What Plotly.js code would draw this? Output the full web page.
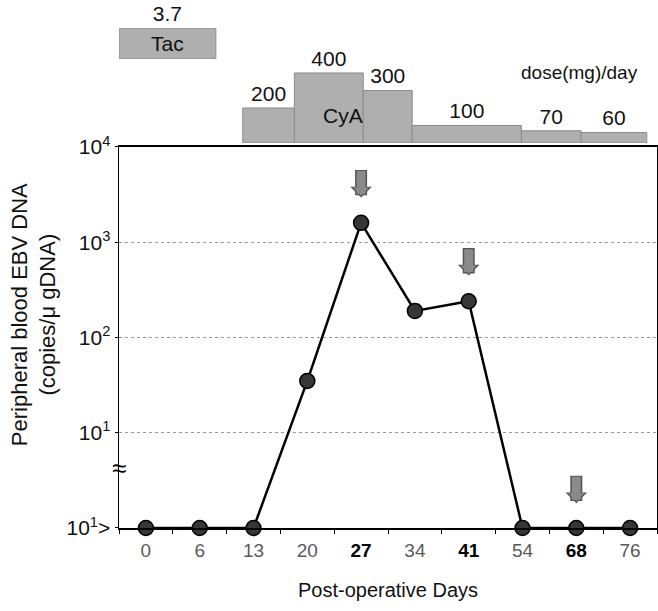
<!DOCTYPE html>
<html><head><meta charset="utf-8">
<script src="https://cdn.plot.ly/plotly-3.0.1.min.js"></script>
<style>html,body{margin:0;padding:0;background:#fff}</style>
</head><body><div id="chart" style="width:658px;height:611px"></div>
<script>
// Post-operative days (categories) and EBV DNA load (copies/ug gDNA); 1 = below detection (10^1>)
const days = ['0','6','13','20','27','34','41','54','68','76'];
const ebvCopies = [1, 1, 1, 35, 1600, 190, 240, 1, 1, 1];
const boldDays = ['27','41','68'];
// event arrows: day and log10 level of arrow tip
const arrowDays = ['27','41','68'];
const arrowTipLog = [3.47, 2.65, 0.26];
// y ticks
const yTickVals = [1, 10, 100, 1000, 10000];
const yTickText = ['10<sup>1</sup>>','10<sup>1</sup>','10<sup>2</sup>','10<sup>3</sup>','10<sup>4</sup>'];
// immunosuppressant dosing (mg/day); spans in category-position units
const cyaDose = [200, 400, 300, 100, 70, 60];
const cyaFrom = [1.80, 2.76, 4.04, 4.95, 6.98, 8.09];
const cyaTo   = [2.76, 4.04, 4.95, 6.98, 8.09, 9.31];
const tacDose = [3.7];
const tacFrom = [-0.5];
const tacTo   = [1.30];

const FONT = 'Arial, "Liberation Sans", sans-serif';
const mid = (a, b) => a.map((v, i) => (v + b[i]) / 2);
const wid = (a, b) => a.map((v, i) => b[i] - v);

const traces = [
  {
    type: 'bar', x: mid(cyaFrom, cyaTo), width: wid(cyaFrom, cyaTo), y: cyaDose,
    xaxis: 'x2', yaxis: 'y2',
    marker: {color: '#afafaf', line: {color: '#8c8c8c', width: 1}},
    text: cyaDose.map(String), textposition: 'outside', constraintext: 'none',
    textfont: {family: FONT, size: 21, color: '#111'}, cliponaxis: false,
    hoverinfo: 'skip', showlegend: false
  },
  {
    type: 'bar', x: mid(tacFrom, tacTo), width: wid(tacFrom, tacTo), y: tacDose,
    xaxis: 'x2', yaxis: 'y3',
    marker: {color: '#afafaf', line: {color: '#8c8c8c', width: 1}},
    text: tacDose.map(String), textposition: 'outside', constraintext: 'none',
    textfont: {family: FONT, size: 21, color: '#111'}, cliponaxis: false,
    hoverinfo: 'skip', showlegend: false
  },
  {
    type: 'scatter', mode: 'lines+markers', x: days, y: ebvCopies,
    xaxis: 'x', yaxis: 'y',
    line: {color: '#000', width: 2.5},
    marker: {size: 15, color: '#363636', line: {color: '#000', width: 1.5}},
    cliponaxis: false, showlegend: false
  }
];

const annotations = [
  {xref: 'x2', yref: 'y3', x: (tacFrom[0] + tacTo[0]) / 2, y: tacDose[0] / 2, text: 'Tac', showarrow: false,
   font: {family: FONT, size: 21, color: '#111'}},
  {xref: 'x2', yref: 'y2', x: 3.66, y: 155, text: 'CyA', showarrow: false,
   font: {family: FONT, size: 21, color: '#111'}},
  {xref: 'x2', yref: 'y2', x: 8.06, y: 400, text: 'dose(mg)/day', showarrow: false,
   font: {family: FONT, size: 19, color: '#111'}},
  {xref: 'paper', yref: 'y', x: 0, xanchor: 'center', y: 0.63, text: '≈', showarrow: false,
   font: {family: FONT, size: 26, color: '#000'}},
  {xref: 'paper', yref: 'paper', x: -0.158, y: 0.405, xanchor: 'center', yanchor: 'middle', textangle: -90,
   text: 'Peripheral blood EBV DNA<br>(copies/μ gDNA)', showarrow: false,
   font: {family: FONT, size: 22, color: '#111'}}
];
arrowDays.forEach((d, i) => {
  const xi = days.indexOf(d);
  annotations.push({xref: 'x', yref: 'y', x: xi, y: arrowTipLog[i], text: '',
    showarrow: true, ax: 0, ay: -29, arrowhead: 1, arrowwidth: 12, arrowsize: 0.3, arrowcolor: '#555'});
  annotations.push({xref: 'x', yref: 'y', x: xi, y: arrowTipLog[i] + 0.02, text: '',
    showarrow: true, ax: 0, ay: -26, arrowhead: 1, arrowwidth: 9, arrowsize: 0.3, arrowcolor: '#8a8a8a'});
});

const layout = {
  width: 658, height: 611,
  margin: {l: 119, r: 1, t: 0, b: 83},
  paper_bgcolor: '#fff', plot_bgcolor: 'rgba(0,0,0,0)',
  font: {family: FONT, color: '#111'},
  barmode: 'overlay',
  xaxis: {
    type: 'category', domain: [0, 1], anchor: 'y', range: [-0.5, 9.5],
    tickvals: days,
    ticktext: days.map(d => boldDays.includes(d) ? '<b><span style="color:#000">' + d + '</span></b>' : d),
    tickfont: {family: FONT, size: 19, color: '#5a5a5a'},
    showline: true, linecolor: '#000', linewidth: 1.5, mirror: true,
    ticks: 'outside', tickson: 'boundaries', ticklen: 4, tickcolor: '#000',
    ticklabelstandoff: 5,
    showgrid: false, zeroline: false,
    title: {text: 'Post-operative Days', font: {family: FONT, size: 20, color: '#111'}, standoff: 22}
  },
  yaxis: {
    type: 'log', domain: [0, 0.7216], anchor: 'x', range: [0, 4],
    tickvals: yTickVals, ticktext: yTickText,
    tickfont: {family: FONT, size: 21, color: '#111'},
    showline: true, linecolor: '#000', linewidth: 1.5, mirror: true,
    ticks: 'outside', ticklen: 3, tickcolor: '#000',
    showgrid: true, gridcolor: '#999', griddash: 'dot', gridwidth: 1, zeroline: false
  },
  xaxis2: {domain: [0, 1], anchor: 'y2', range: [-0.5, 9.5], visible: false, fixedrange: true},
  yaxis2: {domain: [0.7292, 1], anchor: 'x2', range: [0, 817], visible: false, fixedrange: true},
  yaxis3: {domain: [0.8883, 0.947], anchor: 'x2', range: [0, 3.7], visible: false, fixedrange: true},
  annotations: annotations
};

Plotly.newPlot('chart', traces, layout, {displayModeBar: false, staticPlot: true});
</script></body></html>
